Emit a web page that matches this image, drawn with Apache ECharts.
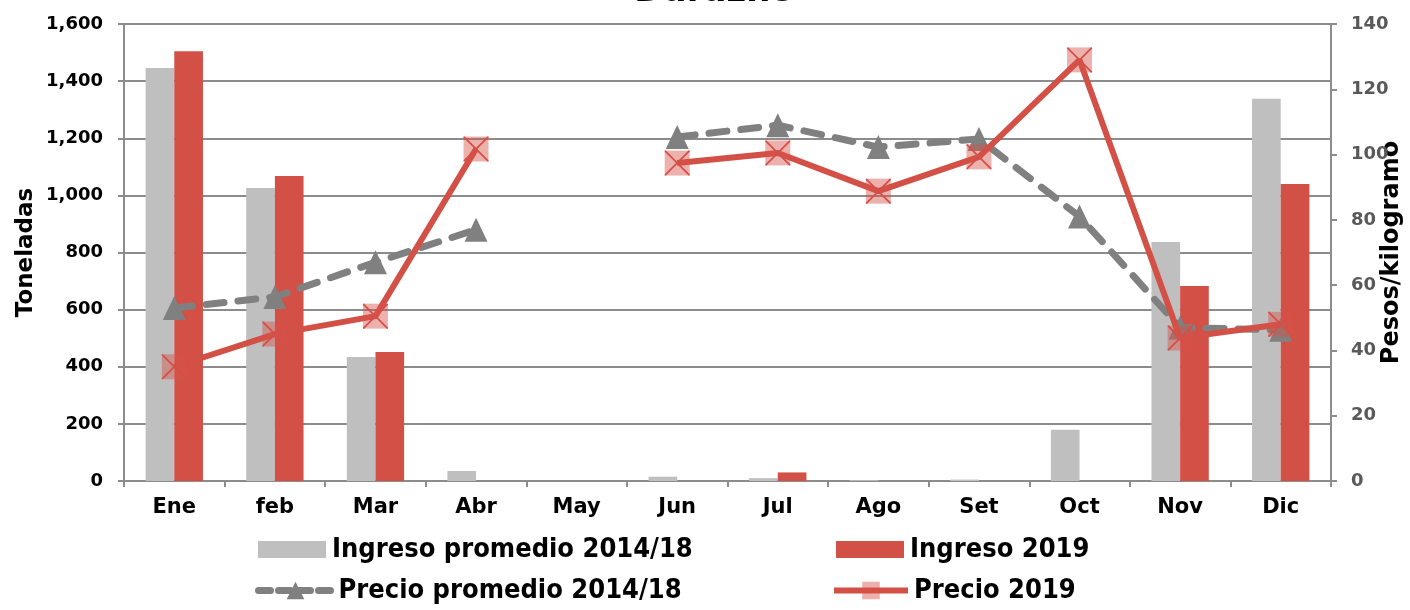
<!DOCTYPE html>
<html>
<head>
<meta charset="utf-8">
<script src="https://cdn.jsdelivr.net/npm/echarts@6/dist/echarts.min.js"></script>
<style>
  html, body { margin: 0; padding: 0; background: #ffffff; }
  #chart { width: 1410px; height: 610px; }
</style>
</head>
<body>
<div id="chart"></div>
<script>
// Months on the category axis
const meses = ['Ene', 'feb', 'Mar', 'Abr', 'May', 'Jun', 'Jul', 'Ago', 'Set', 'Oct', 'Nov', 'Dic'];

// Arrivals in tonnes
const ingresoPromedio = [1446, 1026, 434, 35, 0, 15, 10, 3, 5, 179, 837, 1338];
const ingreso2019 = [1505, 1068, 452, 0, 0, 0, 30, 0, 0, 0, 683, 1040];

// Prices in pesos per kilogram ('-' = no quote that month)
const precioPromedio = [53, 56.4, 67, 77, '-', 105.4, 109, 102.3, 104.8, 81, 47, 46.3];
const precio2019 = [35, 45, 50.5, 101.7, '-', 97.4, 100.5, 88.8, 99.3, 129, 43.8, 48];

const GRAY_BAR = '#bfbfbf';
const RED = '#d35047';
const GRAY_LINE = '#808080';
const GRID = '#8c8c8c';
const FONT = '"DejaVu Sans", sans-serif';
const LEGEND_FONT = '"Liberation Sans Narrow", "DejaVu Sans Condensed", sans-serif';

// thin diagonal cross drawn over each 2019 price marker
const xMark = 'path://M0,0 L1.2,0 L12,10.8 L22.8,0 L24,0 L24,1.2 L13.2,12 L24,22.8 L24,24 L22.8,24 L12,13.2 L1.2,24 L0,24 L0,22.8 L10.8,12 L0,1.2 Z';

const legendText = { fontFamily: LEGEND_FONT, fontWeight: 'bold', fontSize: 27, color: '#000', padding: [0, 0, 0, 1] };

const chart = echarts.init(document.getElementById('chart'));
chart.setOption({
  animation: false,
  title: {
    text: 'Durazno',
    left: 709,
    textAlign: 'center',
    top: -30,
    textStyle: { fontFamily: FONT, fontWeight: 'bold', fontSize: 34, color: '#000' }
  },
  grid: { left: 124, right: 79, top: 24, bottom: 129, containLabel: false, outerBoundsMode: 'none' },
  legend: [
    { data: [{ name: 'Ingreso promedio 2014/18', icon: 'rect' }], left: 258, top: 536, padding: 0, itemWidth: 68, itemHeight: 17, itemGap: 0, textStyle: legendText },
    { data: [{ name: 'Ingreso 2019', icon: 'rect' }], left: 836, top: 536, padding: 0, itemWidth: 68, itemHeight: 17, itemGap: 0, textStyle: legendText },
    {
      data: [{ name: 'Precio promedio 2014/18', lineStyle: { width: 7, type: [12, 8], cap: 'round' } }],
      left: 255, top: 577, padding: 0, itemWidth: 74, itemHeight: 22, itemGap: 0, textStyle: legendText
    },
    {
      data: [{ name: 'Precio 2019', lineStyle: { width: 6 } }],
      left: 831, top: 577, padding: 0, itemWidth: 74, itemHeight: 22, itemGap: 0, textStyle: legendText
    }
  ],
  xAxis: {
    type: 'category',
    data: meses,
    boundaryGap: true,
    axisLine: { lineStyle: { color: GRID, width: 2 } },
    axisTick: { show: true, length: 6, lineStyle: { color: GRID, width: 2 } },
    axisLabel: { fontFamily: FONT, fontWeight: 'bold', fontSize: 21, color: '#000', margin: 16 }
  },
  yAxis: [
    {
      type: 'value',
      min: 0, max: 1600, interval: 200,
      name: 'Toneladas',
      nameLocation: 'middle',
      nameGap: 86,
      nameMoveOverlap: false,
      nameTextStyle: { fontFamily: FONT, fontWeight: 'bold', fontSize: 23, color: '#000' },
      axisLine: { show: true, lineStyle: { color: GRID, width: 2 } },
      axisTick: { show: true, length: 6, lineStyle: { color: GRID, width: 2 } },
      splitLine: { lineStyle: { color: GRID, width: 2 } },
      axisLabel: {
        fontFamily: FONT, fontWeight: 'bold', fontSize: 18, color: '#000', margin: 21,
        formatter: v => v.toLocaleString('en-US')
      }
    },
    {
      type: 'value',
      min: 0, max: 140, interval: 20,
      name: 'Pesos/kilogramo',
      nameLocation: 'middle',
      nameGap: 49,
      nameMoveOverlap: false,
      nameTextStyle: { fontFamily: FONT, fontWeight: 'bold', fontSize: 24, color: '#000' },
      position: 'right',
      axisLine: { show: true, lineStyle: { color: GRID, width: 2 } },
      axisTick: { show: true, length: 6, lineStyle: { color: GRID, width: 2 } },
      splitLine: { show: false },
      axisLabel: { fontFamily: FONT, fontWeight: 'bold', fontSize: 18, color: '#595959', margin: 20 }
    }
  ],
  series: [
    {
      name: 'Ingreso promedio 2014/18',
      type: 'bar',
      data: ingresoPromedio,
      itemStyle: { color: GRAY_BAR },
      barGap: '0%',
      barCategoryGap: '43%',
      z: 2
    },
    {
      name: 'Ingreso 2019',
      type: 'bar',
      data: ingreso2019,
      itemStyle: { color: RED },
      barGap: '0%',
      barCategoryGap: '43%',
      z: 2
    },
    {
      name: 'Precio promedio 2014/18',
      type: 'line',
      yAxisIndex: 1,
      data: precioPromedio,
      connectNulls: false,
      symbol: 'triangle',
      symbolSize: [23, 24],
      itemStyle: { color: GRAY_LINE },
      lineStyle: { color: GRAY_LINE, width: 7, type: [18, 14], cap: 'round' },
      z: 3
    },
    {
      name: 'Precio 2019',
      type: 'line',
      yAxisIndex: 1,
      data: precio2019,
      connectNulls: false,
      symbol: 'rect',
      symbolSize: 25,
      itemStyle: { color: 'rgba(214,82,74,0.45)' },
      lineStyle: { color: RED, width: 6 },
      z: 4
    },
    {
      name: 'Precio 2019 marca',
      type: 'line',
      yAxisIndex: 1,
      data: precio2019,
      symbol: xMark,
      symbolSize: 25,
      itemStyle: { color: RED },
      lineStyle: { width: 0, opacity: 0 },
      silent: true,
      z: 5
    }
  ]
});
</script>
</body>
</html>
